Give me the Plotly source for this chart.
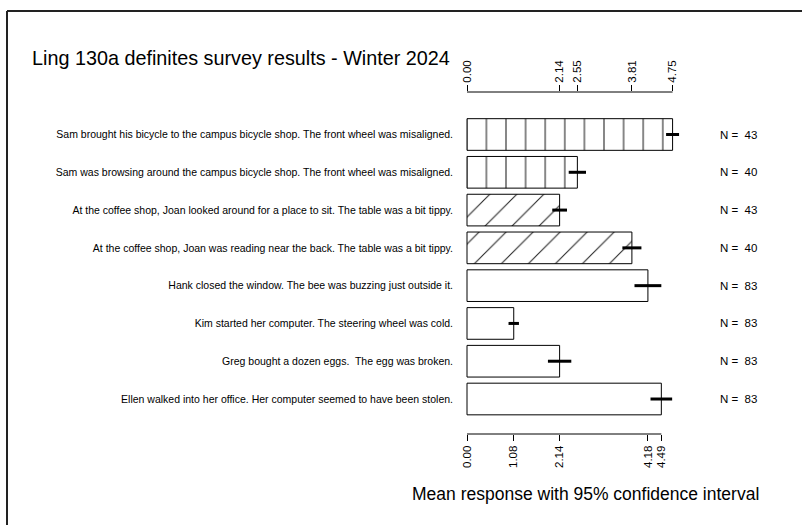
import plotly.graph_objects as go

# ---- data ----
sentences = [
    "Sam brought his bicycle to the campus bicycle shop. The front wheel was misaligned.",
    "Sam was browsing around the campus bicycle shop. The front wheel was misaligned.",
    "At the coffee shop, Joan looked around for a place to sit. The table was a bit tippy.",
    "At the coffee shop, Joan was reading near the back. The table was a bit tippy.",
    "Hank closed the window. The bee was buzzing just outside it.",
    "Kim started her computer. The steering wheel was cold.",
    "Greg bought a dozen eggs.&nbsp; The egg was broken.",
    "Ellen walked into her office. Her computer seemed to have been stolen.",
]
means = [4.75, 2.55, 2.14, 3.81, 4.18, 1.08, 2.14, 4.49]
ci_half = [0.15, 0.20, 0.17, 0.22, 0.31, 0.12, 0.27, 0.25]
n_resp = [43, 40, 43, 40, 83, 83, 83, 83]
patterns = ["|", "|", "/", "/", "", "", "", ""]
top_ticks = [0.00, 2.14, 2.55, 3.81, 4.75]
bottom_ticks = [0.00, 1.08, 2.14, 4.18, 4.49]

# ---- layout geometry ----
W, H = 802, 525
ML, MR, MT, MB = 457, 11, 92, 91
PX_PER_UNIT = 43.28
x0 = -(467 - ML) / PX_PER_UNIT
x1 = x0 + (W - ML - MR) / PX_PER_UNIT
pw = W - ML - MR
ph = H - MT - MB

def px_to_paper_x(px):
    return (px - ML) / pw

def px_to_paper_y(py):
    return (H - MB - py) / ph

pos = list(range(len(means)))
FONT = "Liberation Sans, Arial, sans-serif"

pat_size = [19.6 if p == "|" else (19.1 if p == "/" else 10) for p in patterns]
pat_sol = [0.055 if p else 0.3 for p in patterns]

fig = go.Figure()
fig.add_trace(go.Bar(
    x=means, y=pos, orientation="h", width=0.838,
    marker=dict(color="white", line=dict(color="black", width=1),
                pattern=dict(shape=patterns, size=pat_size, solidity=pat_sol,
                             fgcolor="#222222", fillmode="replace")),
    error_x=dict(type="data", array=ci_half, symmetric=True, width=0,
                 thickness=3, color="black"),
    showlegend=False, hoverinfo="skip",
))

annotations = []
for i, n in enumerate(n_resp):
    annotations.append(dict(
        x=(718 - 467) / PX_PER_UNIT, y=pos[i], xref="x", yref="y",
        text=f"N =&nbsp; {n}", showarrow=False, xanchor="left", yanchor="middle",
        font=dict(size=11.5, color="black", family=FONT)))
annotations.append(dict(
    x=px_to_paper_x(585.5), y=px_to_paper_y(494), xref="paper", yref="paper",
    text="Mean response with 95% confidence interval", showarrow=False,
    xanchor="center", yanchor="middle",
    font=dict(size=17.5, color="black", family=FONT)))

shapes = [
    # outer frame (left and top edges)
    dict(type="line", xref="paper", yref="paper",
         x0=px_to_paper_x(7), x1=px_to_paper_x(7),
         y0=px_to_paper_y(11), y1=px_to_paper_y(H + 5),
         line=dict(color="#222222", width=2)),
    dict(type="line", xref="paper", yref="paper",
         x0=px_to_paper_x(7), x1=px_to_paper_x(W + 5),
         y0=px_to_paper_y(11), y1=px_to_paper_y(11),
         line=dict(color="#222222", width=2)),
    # axis lines spanning tick extent
    dict(type="line", xref="x", yref="paper", x0=min(top_ticks), x1=max(top_ticks),
         y0=1, y1=1, line=dict(color="black", width=1)),
    dict(type="line", xref="x", yref="paper", x0=min(bottom_ticks), x1=max(bottom_ticks),
         y0=0, y1=0, line=dict(color="black", width=1)),
]

fig.update_layout(
    width=W, height=H,
    margin=dict(l=ML, r=MR, t=MT, b=MB, pad=0),
    paper_bgcolor="white", plot_bgcolor="white",
    font=dict(family=FONT, color="black"),
    title=dict(text="Ling 130a definites survey results - Winter 2024",
               x=32 / W, xref="container", xanchor="left",
               y=1 - 58 / H, yref="container", yanchor="middle",
               font=dict(size=19.8, color="black", family=FONT)),
    xaxis=dict(range=[x0, x1], tickvals=bottom_ticks,
               ticktext=[f"{v:.2f}" for v in bottom_ticks],
               tickangle=-90, ticks="outside", ticklen=6, tickwidth=1, tickcolor="black",
               showgrid=False, zeroline=False, showline=False,
               tickfont=dict(size=11.5, color="black", family=FONT)),
    xaxis2=dict(range=[x0, x1], overlaying="x", side="top", tickvals=top_ticks,
                ticktext=[f"{v:.2f}" for v in top_ticks],
                tickangle=-90, ticks="outside", ticklen=6, tickwidth=1, tickcolor="black",
                showgrid=False, zeroline=False, showline=False,
                tickfont=dict(size=11.5, color="black", family=FONT)),
    yaxis=dict(range=[7.926, -1.125], tickvals=pos, ticktext=sentences,
               ticks="", showgrid=False, zeroline=False, showline=False,
               ticklabelstandoff=3,
               tickfont=dict(size=10.5, color="black", family=FONT)),
    annotations=annotations,
    shapes=shapes,
)
# invisible trace to activate the top axis
fig.add_trace(go.Scatter(x=[0], y=[0], xaxis="x2", mode="markers",
                         marker=dict(opacity=0), showlegend=False, hoverinfo="skip"))

fig.write_html("out.html")
